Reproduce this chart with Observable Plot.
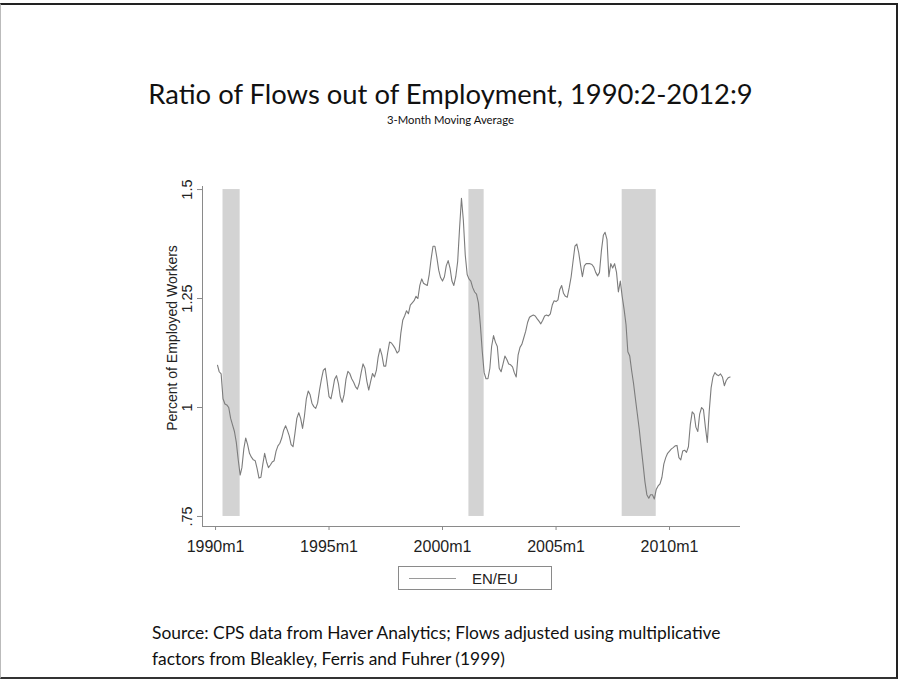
<!DOCTYPE html>
<html>
<head>
<meta charset="utf-8">
<script src="https://cdn.jsdelivr.net/npm/d3@7"></script>
<script src="https://cdn.jsdelivr.net/npm/@observablehq/plot@0.6"></script>
<style>
  html, body { margin: 0; padding: 0; background: #fff; }
  #wrap { position: relative; width: 901px; height: 681px; overflow: hidden; background: #fff; }
  #chart { position: absolute; left: 0; top: 0; }
  .border { position: absolute; left: 0; top: 3px; width: 898px; height: 676px;
            border-top: 2px solid #222; border-right: 2px solid #222; border-bottom: 2px solid #333; border-left: 1px solid #bbb; box-sizing: border-box; }
  .title { position: absolute; left: 0; width: 901px; text-align: center; font-family: Lato, "Open Sans", sans-serif; color: #111; white-space: nowrap; }
  #t1 { top: 79px; font-size: 27.4px; line-height: 30px; }
  #t2 { top: 113px; font-size: 11.3px; line-height: 14px; }
  .src { position: absolute; left: 152px; font-family: Lato, "Open Sans", sans-serif; font-size: 17.4px; line-height: 22px; color: #111; white-space: nowrap; }
  #s1 { top: 622px; }
  #s2 { top: 648px; }
  #ylab { position: absolute; left: 172px; top: 338px; transform: translate(-50%, -50%) rotate(-90deg);
          font-family: "Liberation Sans", Arial, sans-serif; font-size: 14px; color: #222; white-space: nowrap; }
  #legend { position: absolute; left: 398px; top: 566px; width: 154px; height: 24px; border: 1px solid #8a8a8a; box-sizing: border-box; }
  #legline { position: absolute; left: 10px; top: 11px; width: 47px; height: 0; border-top: 1.2px solid #9a9a9a; }
  #legtxt { position: absolute; left: 73px; top: 3px; font-family: "Liberation Sans", Arial, sans-serif; font-size: 15px; line-height: 17px; color: #222; }
</style>
</head>
<body>
<div id="wrap">
  <div id="chart"></div>
  <div class="border"></div>
  <div class="title" id="t1">Ratio of Flows out of Employment, 1990:2-2012:9</div>
  <div class="title" id="t2">3-Month Moving Average</div>
  <div id="ylab">Percent of Employed Workers</div>
  <div id="legend"><div id="legline"></div><div id="legtxt">EN/EU</div></div>
  <div class="src" id="s1">Source: CPS data from Haver Analytics; Flows adjusted using multiplicative</div>
  <div class="src" id="s2">factors from Bleakley, Ferris and Fuhrer (1999)</div>
</div>
<script>
// ---- Data ----
const firstMonth = "1990-02";
const seriesName = "EN/EU";
const ratio = [
  // 1990 Feb-Dec
  1.097, 1.082, 1.077, 1.02, 1.008, 1.006, 1.0, 0.975, 0.96, 0.945, 0.92,
  // 1991
  0.88, 0.845, 0.862, 0.905, 0.93, 0.915, 0.895, 0.886, 0.88, 0.878, 0.86, 0.838,
  // 1992
  0.84, 0.87, 0.895, 0.875, 0.862, 0.868, 0.875, 0.878, 0.9, 0.912, 0.918, 0.93,
  // 1993
  0.948, 0.958, 0.948, 0.935, 0.915, 0.91, 0.94, 0.975, 0.988, 0.975, 0.952, 0.98,
  // 1994
  1.02, 1.038, 1.03, 1.01, 1.002, 0.998, 1.01, 1.04, 1.065, 1.085, 1.09, 1.06,
  // 1995
  1.025, 1.02, 1.04, 1.065, 1.073, 1.055, 1.025, 1.012, 1.03, 1.065, 1.083, 1.078,
  // 1996
  1.066, 1.058, 1.048, 1.042, 1.055, 1.08, 1.1, 1.09, 1.06, 1.04, 1.06, 1.078,
  // 1997
  1.07, 1.085, 1.115, 1.135, 1.12, 1.095, 1.095, 1.125, 1.15, 1.148, 1.142, 1.135,
  // 1998
  1.125, 1.13, 1.17, 1.2, 1.21, 1.222, 1.215, 1.235, 1.24, 1.245, 1.255, 1.25,
  // 1999
  1.28, 1.295, 1.285, 1.282, 1.28, 1.305, 1.34, 1.37, 1.37, 1.345, 1.315, 1.298,
  // 2000
  1.29, 1.3, 1.325, 1.337, 1.32, 1.29, 1.28, 1.3, 1.335, 1.41, 1.48, 1.43,
  // 2001
  1.35, 1.305, 1.295, 1.29, 1.275, 1.265, 1.26, 1.24, 1.19, 1.13, 1.08, 1.066,
  // 2002
  1.066, 1.09, 1.14, 1.165, 1.15, 1.14, 1.09, 1.082, 1.1, 1.118, 1.11, 1.1,
  // 2003
  1.098, 1.093, 1.08, 1.07, 1.12, 1.138, 1.145, 1.16, 1.175, 1.195, 1.207, 1.21,
  // 2004
  1.212, 1.21, 1.204, 1.198, 1.192, 1.2, 1.21, 1.212, 1.21, 1.215, 1.235, 1.245,
  // 2005
  1.243, 1.247, 1.27, 1.28, 1.262, 1.255, 1.253, 1.275, 1.3, 1.335, 1.37, 1.375,
  // 2006
  1.355, 1.325, 1.3, 1.325, 1.33, 1.33, 1.33, 1.328, 1.322, 1.31, 1.302, 1.31,
  // 2007
  1.36, 1.395, 1.402, 1.385, 1.3, 1.33, 1.32, 1.33, 1.31, 1.265, 1.29, 1.255,
  // 2008
  1.225, 1.19, 1.128, 1.118, 1.085, 1.055, 1.02, 0.985, 0.95, 0.91, 0.87, 0.83,
  // 2009
  0.8, 0.792, 0.8, 0.8, 0.79, 0.812, 0.82, 0.825, 0.84, 0.87, 0.885, 0.895,
  // 2010
  0.9, 0.905, 0.908, 0.912, 0.913, 0.885, 0.88, 0.9, 0.902, 0.897, 0.91, 0.96,
  // 2011
  0.99, 0.985, 0.955, 0.945, 0.985, 1.0, 0.995, 0.955, 0.92, 0.99, 1.045, 1.07,
  // 2012 Jan-Sep
  1.08, 1.075, 1.073, 1.077, 1.07, 1.05, 1.062, 1.068, 1.07
];

// Recession shading periods (as drawn)
const recessionStart = ["1990-05", "2001-03", "2007-12"];
const recessionEnd   = ["1991-02", "2001-11", "2009-06"];

// Axis ticks
const xTickMonths = ["1990-01", "1995-01", "2000-01", "2005-01", "2010-01"];
const yTicks = [0.75, 1, 1.25, 1.5];
const yTickLabels = [".75", "1", "1.25", "1.5"];

// Axis extents (as drawn)
const xExtent = ["1989-06-05", "2013-02-16"];
const yExtent = [0.727, 1.507];

// ---- Build ----
const parse = s => new Date(s.length === 7 ? s + "-01T00:00:00Z" : s + "T00:00:00Z");
const start = parse(firstMonth);
const series = ratio.map((v, i) => ({ date: d3.utcMonth.offset(start, i), value: v }));
const recessions = recessionStart.map((s, i) => ({ start: parse(s), end: parse(recessionEnd[i]) }));
const xTicks = xTickMonths.map(parse);
const yTickData = yTicks.map((v, i) => ({ v, label: yTickLabels[i] }));
const xDom = xExtent.map(parse);

const chart = Plot.plot({
  width: 901,
  height: 681,
  marginLeft: 202,
  marginRight: 161,
  marginTop: 186,
  marginBottom: 155,
  style: { background: "transparent", overflow: "visible" },
  x: { type: "utc", domain: xDom },
  y: { domain: yExtent },
  marks: [
    Plot.rect(recessions, {
      x1: "start", x2: "end",
      y1: () => d3.min(yTicks), y2: () => d3.max(yTicks),
      fill: "#d3d3d3"
    }),
    Plot.lineY(series, { x: "date", y: "value", stroke: "#7c7c7c", strokeWidth: 1.1 }),
    Plot.ruleX([xDom[0]], { stroke: "#8a8a8a", strokeWidth: 1 }),
    Plot.ruleY([yExtent[0]], { stroke: "#8a8a8a", strokeWidth: 1 }),
    Plot.axisX({
      ticks: xTicks,
      tickSize: 4,
      tickPadding: 10,
      stroke: "#8a8a8a",
      fill: "#1e1e1e",
      fontSize: 16,
      fontFamily: "Liberation Sans, Arial, sans-serif",
      tickFormat: d => `${d.getUTCFullYear()}m${d.getUTCMonth() + 1}`,
      label: null
    }),
    Plot.axisY({
      ticks: yTicks,
      tickSize: 5,
      stroke: "#8a8a8a",
      tickFormat: () => "",
      label: null
    }),
    Plot.text(yTickData, {
      y: "v",
      text: "label",
      frameAnchor: "left",
      dx: -11,
      rotate: -90,
      textAnchor: "middle",
      lineAnchor: "bottom",
      fontSize: 14.5,
      fontFamily: "Liberation Sans, Arial, sans-serif",
      fill: "#222"
    })
  ]
});
document.getElementById("chart").appendChild(chart);
</script>
</body>
</html>
